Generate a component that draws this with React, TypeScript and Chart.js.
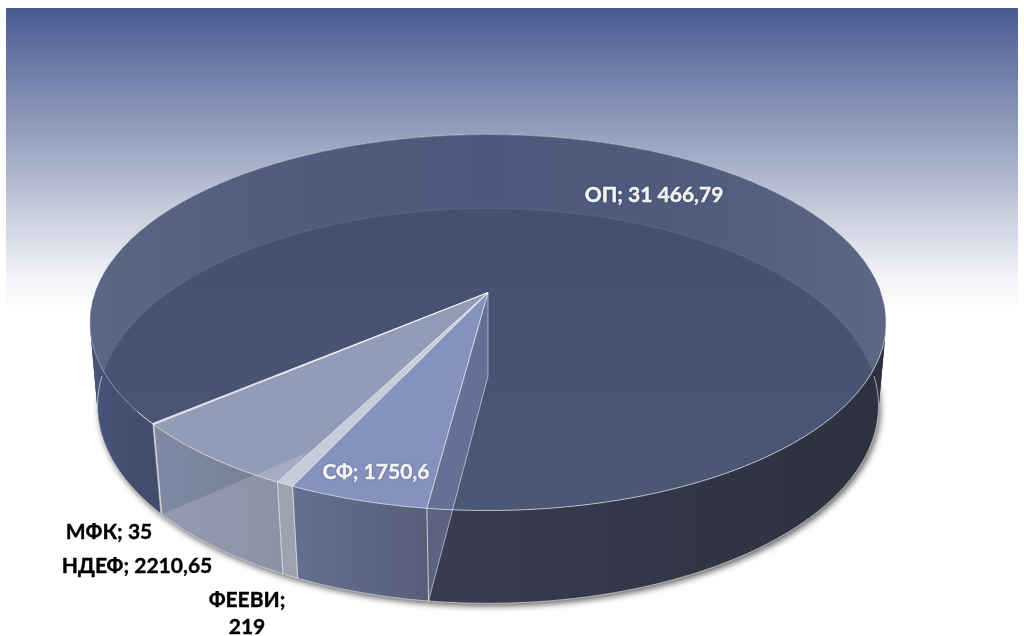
import React, { useEffect, useRef } from "react";
import { Chart, registerables } from "chart.js";

Chart.register(...registerables);

const categories = ["ОП", "СФ", "ФЕЕВИ", "НДЕФ", "МФК"];
const values = [31466.79, 1750.6, 219, 2210.65, 35];
const valueTexts = ["31 466,79", "1750,6", "219", "2210,65", "35"];
const sliceColors = ["#55617f", "#8592bd", "#c6ccdb", "#929cb6", "#c9cfdd"];

const FONT = 'bold 21px Lato, "Noto Sans", sans-serif';

type P = [number, number];
const ring = (cx: number, cy: number, R: number, A: number, k: number) => (a: number): P => {
  const u = Math.cos(a);
  const v = Math.sin(a);
  const w = 1 / (1 - k * v);
  return [cx + R * u * w, cy + A * v * w];
};
const topRing = ring(488, 292.5, 393, 183.2, 0.1596);
const botRing = ring(488, 376, 386, 193, 0.151);

const sample = (f: (a: number) => P, a0: number, a1: number): P[] => {
  const n = Math.max(2, Math.ceil(Math.abs(a1 - a0) / 0.01));
  const out: P[] = [];
  for (let i = 0; i <= n; i++) out.push(f(a0 + ((a1 - a0) * i) / n));
  return out;
};
const poly = (ctx: CanvasRenderingContext2D, pts: P[], close = true) => {
  ctx.beginPath();
  pts.forEach((p, i) => (i ? ctx.lineTo(p[0], p[1]) : ctx.moveTo(p[0], p[1])));
  if (close) ctx.closePath();
};
const hGrad = (ctx: CanvasRenderingContext2D, x0: number, x1: number, stops: [number, string][]) => {
  const g = ctx.createLinearGradient(x0, 0, x1, 0);
  stops.forEach(([o, c]) => g.addColorStop(o, c));
  return g;
};

const backdrop = {
  id: "backdrop",
  beforeDraw(chart: any) {
    const ctx: CanvasRenderingContext2D = chart.ctx;
    const g = ctx.createLinearGradient(0, 8, 0, 312);
    g.addColorStop(0, "#4a5b92");
    g.addColorStop(0.5, "#a5aec8");
    g.addColorStop(0.89, "#f3f4f8");
    g.addColorStop(1, "#ffffff");
    ctx.save();
    ctx.fillStyle = g;
    ctx.fillRect(6, 8, 1012, 304);
    ctx.restore();
  },
};

const pie3d = {
  id: "pie3d",
  beforeDatasetsDraw(chart: any) {
    const ctx: CanvasRenderingContext2D = chart.ctx;
    const arcs = chart.getDatasetMeta(0).data as any[];
    const colors = chart.data.datasets[0].backgroundColor as string[];
    const apexT: P = [488, 292.5];
    const apexB: P = [488, 376];
    const [op, sf, fe, nd, mf] = arcs;
    const topWedge = (a: any): P[] => [apexT, ...sample(topRing, a.startAngle, a.endAngle)];
    const frontBand = (a: any): P[] => [
      ...sample(topRing, a.startAngle, a.endAngle),
      ...sample(botRing, a.endAngle, a.startAngle),
    ];
    ctx.save();

    // ground shadow of the whole disc
    ctx.save();
    ctx.shadowColor = "rgba(0,0,0,0.6)";
    ctx.shadowBlur = 6;
    ctx.shadowOffsetX = 2;
    ctx.shadowOffsetY = 3;
    ctx.fillStyle = "#2f3240";
    poly(ctx, sample(botRing, 0, Math.PI));
    ctx.fill();
    ctx.restore();

    // outer wall of the large slice, as overlapping pieces so that the side silhouette is filled
    ctx.fillStyle = hGrad(ctx, 90, 886, [
      [0, "#48537a"],
      [0.09, "#414b69"],
      [0.0901, "#3a3d52"],
      [0.42, "#3a3d52"],
      [1, "#2d303e"],
    ]);
    for (let a = op.startAngle; a < op.endAngle; a += 0.05) {
      const b = Math.min(a + 0.07, op.endAngle);
      poly(ctx, [topRing(a), topRing(b), botRing(b), botRing(a)]);
      ctx.fill();
    }

    // top face of the large slice with the floor seen through it
    const opTop = topWedge(op);
    poly(ctx, opTop);
    ctx.fillStyle = hGrad(ctx, 89, 886, [
      [0, "#5c6785"],
      [0.25, "#505c7e"],
      [0.5, "#4c597c"],
      [0.75, "#505c7e"],
      [1, "#5c6785"],
    ]);
    ctx.fill();
    ctx.save();
    poly(ctx, opTop);
    ctx.clip();
    poly(ctx, sample(botRing, 0, Math.PI * 2));
    const vg = ctx.createLinearGradient(0, 207, 0, 510);
    vg.addColorStop(0, "#445070");
    vg.addColorStop(1, "#4c5776");
    ctx.fillStyle = vg;
    ctx.fill();
    ctx.strokeStyle = "rgba(110,125,160,0.3)";
    ctx.lineWidth = 1.5;
    ctx.stroke();
    ctx.restore();

    // front walls of the small slices
    poly(ctx, frontBand(sf));
    ctx.fillStyle = hGrad(ctx, 292, 429, [
      [0, "#656f92"],
      [1, "#565e78"],
    ]);
    ctx.fill();
    poly(ctx, frontBand(fe));
    ctx.fillStyle = "#9ea2ae";
    ctx.fill();
    poly(ctx, frontBand(nd));
    ctx.fillStyle = hGrad(ctx, 152, 282, [
      [0, "#7f89a3"],
      [1, "#767e96"],
    ]);
    ctx.fill();
    poly(ctx, frontBand(mf));
    ctx.fillStyle = "#aab0c0";
    ctx.fill();

    // top faces of the small slices
    [sf, fe, nd, mf].forEach((a, i) => {
      poly(ctx, topWedge(a));
      ctx.fillStyle = colors[i + 1];
      ctx.fill();
    });

    // floor of the translucent slice seen through wall and top
    ctx.save();
    ctx.beginPath();
    [topWedge(nd), frontBand(nd)].forEach((pts) => {
      pts.forEach((p, i) => (i ? ctx.lineTo(p[0], p[1]) : ctx.moveTo(p[0], p[1])));
      ctx.closePath();
    });
    ctx.clip("nonzero");
    poly(ctx, [apexB, ...sample(botRing, nd.startAngle, nd.endAngle)]);
    ctx.fillStyle = "rgba(255,255,255,0.16)";
    ctx.fill();
    ctx.restore();

    // inner cut wall between first slice and second slice
    poly(ctx, [apexT, apexB, botRing(sf.startAngle), topRing(sf.startAngle)]);
    ctx.fillStyle = "rgba(133,146,189,0.45)";
    ctx.fill();

    // edges
    ctx.lineJoin = "round";
    ctx.lineWidth = 1;
    poly(ctx, sample(topRing, op.startAngle, op.startAngle + (2 * Math.PI - (op.startAngle - 0)) + 0), false);
    ctx.strokeStyle = "rgba(255,255,255,0.35)";
    ctx.stroke();
    poly(ctx, sample(topRing, 0, Math.PI * 0.8), false);
    ctx.strokeStyle = "rgba(255,255,255,0.65)";
    ctx.stroke();
    ctx.strokeStyle = "rgba(255,255,255,0.7)";
    const radial = (a: number) => {
      poly(ctx, [apexT, topRing(a)], false);
      ctx.stroke();
      poly(ctx, [topRing(a), botRing(a)], false);
      ctx.stroke();
    };
    [sf.startAngle, fe.startAngle, nd.startAngle, mf.startAngle].forEach(radial);
    poly(ctx, [apexT, topRing(mf.endAngle)], false);
    ctx.stroke();
    poly(ctx, [apexT, apexB, botRing(sf.startAngle)], false);
    ctx.strokeStyle = "rgba(255,255,255,0.5)";
    ctx.stroke();
    poly(ctx, sample(botRing, 0, Math.PI), false);
    ctx.strokeStyle = "rgba(255,255,255,0.6)";
    ctx.stroke();

    ctx.restore();
    return false;
  },
  afterDraw(chart: any) {
    const ctx: CanvasRenderingContext2D = chart.ctx;
    const labels = chart.data.labels as string[];
    const text = (i: number) => `${labels[i]}; ${valueTexts[i]}`;
    const put = (s: string, x: number, y: number) => {
      ctx.fillText(s, x, y);
      ctx.strokeText(s, x, y);
    };
    ctx.save();
    ctx.font = FONT;
    ctx.textAlign = "center";
    ctx.textBaseline = "middle";
    ctx.lineWidth = 0.4;
    ctx.fillStyle = "#ffffff";
    ctx.strokeStyle = "#ffffff";
    ctx.shadowColor = "rgba(0,0,0,0.35)";
    ctx.shadowBlur = 2;
    put(text(0), 654, 195);
    put(text(1), 376, 472);
    ctx.shadowColor = "transparent";
    ctx.fillStyle = "#000000";
    ctx.strokeStyle = "#000000";
    put(text(4), 109, 532);
    put(text(3), 137, 566);
    put(`${labels[2]};`, 247, 600);
    put(valueTexts[2], 247, 627);
    ctx.restore();
  },
};

export default function App() {
  const ref = useRef<HTMLCanvasElement>(null);
  useEffect(() => {
    if (!ref.current) return;
    const chart = new Chart(ref.current, {
      type: "pie",
      data: {
        labels: categories,
        datasets: [{ data: values, backgroundColor: sliceColors, borderWidth: 0, rotation: 230.05 }],
      },
      options: {
        responsive: false,
        animation: false,
        plugins: { legend: { display: false }, tooltip: { enabled: false } },
      },
      plugins: [backdrop, pie3d],
    } as any);
    return () => chart.destroy();
  }, []);
  return (
    <div style={{ position: "absolute", left: 0, top: 0, width: 1024, height: 636, background: "#fff", overflow: "hidden" }}>
      <canvas ref={ref} width={1024} height={636} style={{ display: "block" }} />
    </div>
  );
}
